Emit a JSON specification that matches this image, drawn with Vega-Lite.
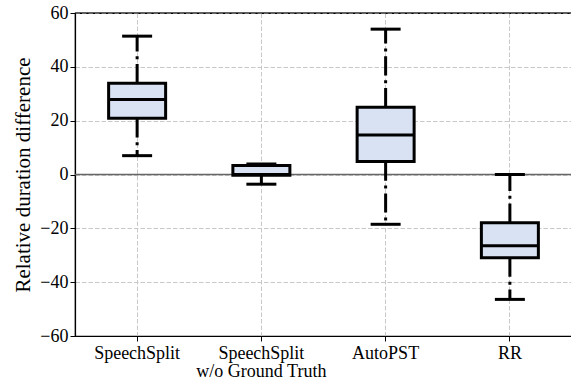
{
  "$schema": "https://vega.github.io/schema/vega-lite/v6.json",
  "autosize": {"type": "none"},
  "padding": {"left": 75, "top": 13, "right": 0, "bottom": 46},
  "width": 497,
  "height": 323,
  "config": {
    "view": {"stroke": "black", "strokeWidth": 1.2},
    "font": "Liberation Serif",
    "axis": {
      "labelFont": "Liberation Serif",
      "titleFont": "Liberation Serif",
      "labelColor": "black",
      "titleColor": "black",
      "domainColor": "black",
      "tickColor": "black",
      "domainWidth": 1.2,
      "tickWidth": 1,
      "tickSize": 5,
      "labelFontSize": 18,
      "titleFontSize": 21,
      "titleFontWeight": "normal",
      "gridColor": "#c8c8c8",
      "gridDash": [4.5, 2],
      "gridWidth": 1
    }
  },
  "data": {
    "values": [
      {"method": "SpeechSplit", "lower": 7.0, "q1": 20.9, "median": 27.9, "q3": 33.9, "upper": 51.4},
      {"method": "SpeechSplit w/o Ground Truth", "lower": -3.6, "q1": -0.3, "median": 0.0, "q3": 3.3, "upper": 3.9},
      {"method": "AutoPST", "lower": -18.5, "q1": 4.8, "median": 14.7, "q3": 25.0, "upper": 54.0},
      {"method": "RR", "lower": -46.4, "q1": -30.9, "median": -26.5, "q3": -17.9, "upper": 0.0}
    ]
  },
  "encoding": {
    "x": {
      "field": "method",
      "type": "nominal",
      "sort": null,
      "scale": {"type": "band", "paddingInner": 0, "paddingOuter": 0},
      "axis": {
        "title": null,
        "labelAngle": 0,
        "grid": true,
        "bandPosition": 0.5,
        "labelPadding": 3,
        "labelLineHeight": 18,
        "labelExpr": "datum.value == 'SpeechSplit w/o Ground Truth' ? ['SpeechSplit', 'w/o Ground Truth'] : datum.label"
      }
    }
  },
  "layer": [
    {
      "data": {"values": [{"v": 0, "kind": "zero"}]},
      "mark": {"type": "rule", "color": "#666666", "strokeWidth": 1.5},
      "encoding": {"x": null, "y": {"field": "v", "type": "quantitative"}}
    },
    {
      "data": {"values": [{"v": 60, "kind": "top"}]},
      "mark": {"type": "rule", "color": "black", "strokeWidth": 1.2},
      "encoding": {"x": null, "y": {"field": "v", "type": "quantitative"}}
    },
    {
      "mark": {"type": "rule", "color": "black", "strokeWidth": 3, "strokeDash": [19.2, 4.8, 3, 4.8], "strokeCap": "butt"},
      "encoding": {
        "y": {"field": "q3", "type": "quantitative", "scale": {"domain": [-60, 60], "nice": false}, "axis": {"title": "Relative duration difference", "values": [-60, -40, -20, 0, 20, 40, 60], "grid": true, "titlePadding": 6}},
        "y2": {"field": "upper"}
      }
    },
    {
      "mark": {"type": "rule", "color": "black", "strokeWidth": 3, "strokeDash": [19.2, 4.8, 3, 4.8], "strokeCap": "butt"},
      "encoding": {
        "y": {"field": "q1", "type": "quantitative"},
        "y2": {"field": "lower"}
      }
    },
    {
      "mark": {"type": "bar", "size": 57, "fill": "#d9e2f3", "stroke": "black", "strokeWidth": 3},
      "encoding": {
        "y": {"field": "q1", "type": "quantitative"},
        "y2": {"field": "q3"}
      }
    },
    {
      "mark": {"type": "tick", "color": "black", "opacity": 1, "size": 57, "thickness": 3},
      "encoding": {"y": {"field": "median", "type": "quantitative"}}
    },
    {
      "mark": {"type": "tick", "color": "black", "opacity": 1, "size": 30, "thickness": 3},
      "encoding": {"y": {"field": "upper", "type": "quantitative"}}
    },
    {
      "mark": {"type": "tick", "color": "black", "opacity": 1, "size": 30, "thickness": 3},
      "encoding": {"y": {"field": "lower", "type": "quantitative"}}
    }
  ]
}
